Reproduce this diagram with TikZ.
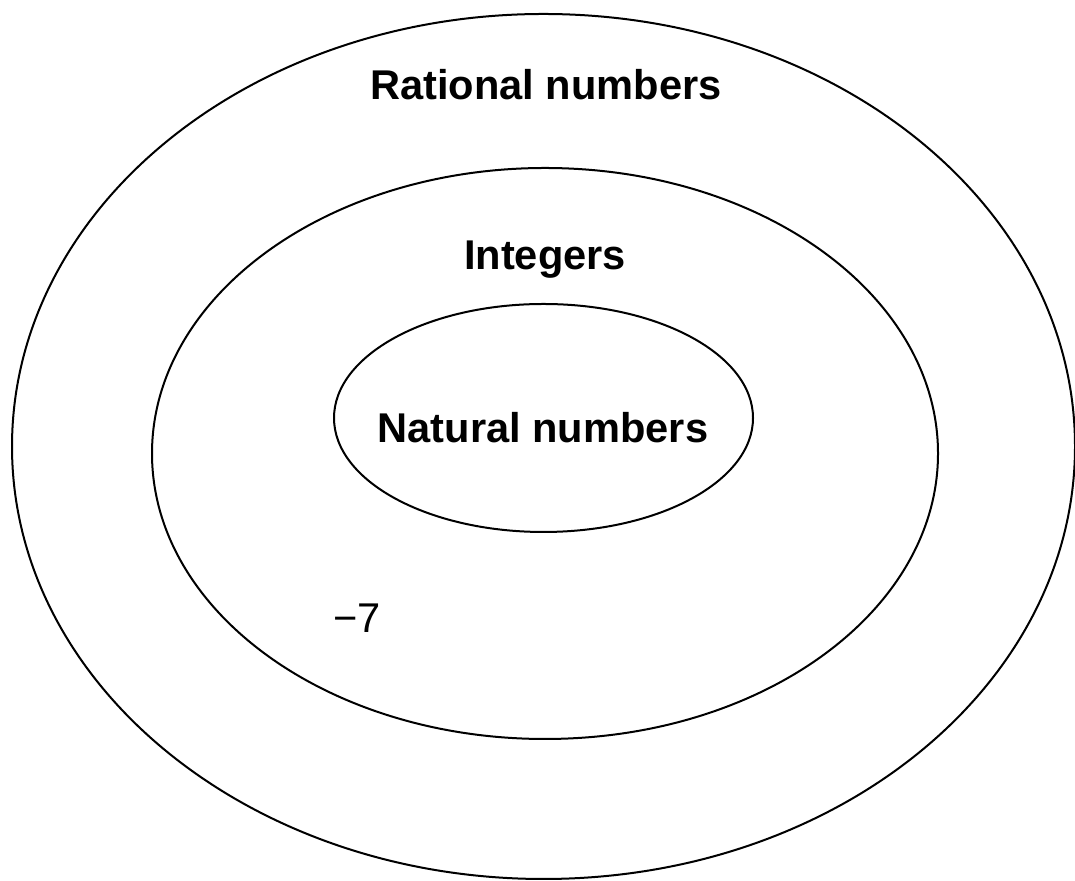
\documentclass[tikz,border=0pt]{standalone}
\usepackage{fontspec}
\setmainfont{Liberation Sans}
\usetikzlibrary{shapes.geometric}
\begin{document}
\begin{tikzpicture}[x=0.5pt, y=0.5pt]
\tikzset{setbox/.style={ellipse, draw, line width=1pt, inner sep=0pt},
  setlabel/.style={anchor=base, font=\fontsize{20.8}{25}\selectfont\bfseries}}
\useasboundingbox (0,0) rectangle (1075,881);
\node[setbox, minimum width=531.5pt, minimum height=432.5pt] (rational) at (543.5,434.5){};
\node[setbox, minimum width=393pt, minimum height=285.5pt] (integer) at (545,427.5){};
\node[setbox, minimum width=209.5pt, minimum height=114pt] (natural) at (543.5,463){};
\node[setlabel] (trational) at (546,781){Rational numbers};
\node[setlabel] (tinteger) at (545,611){Integers};
\node[setlabel] (tnatural) at (543,438){Natural numbers};
\node[anchor=base, font=\fontsize{20.8}{25}\selectfont] (tminus) at (357,248){−7};

\end{tikzpicture}
\end{document}
